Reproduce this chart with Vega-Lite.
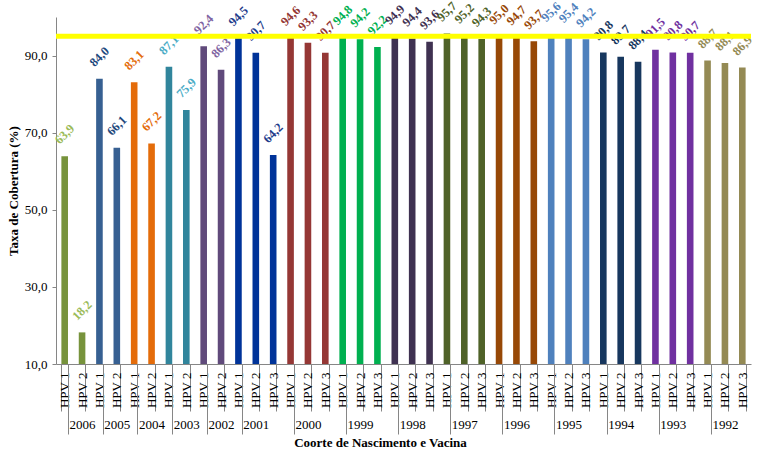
{
  "$schema": "https://vega.github.io/schema/vega-lite/v6.json",
  "width": 695,
  "height": 347,
  "autosize": {"type": "none"},
  "padding": {"left": 56, "top": 17, "right": 7, "bottom": 91},
  "background": "white",
  "config": {
    "view": {"stroke": null},
    "font": "Liberation Serif",
    "axis": {"labelFont": "Liberation Serif", "titleFont": "Liberation Serif", "labelColor": "black", "titleColor": "black", "domainColor": "#868686", "tickColor": "#868686", "grid": false},
    "axisY": {"labelOverlap": false}
  },
  "data": {"values": [
    {"grupo": "2006 HPV 1", "ano": "2006", "taxa": 63.9},
    {"grupo": "2006 HPV 2", "ano": "2006", "taxa": 18.2},
    {"grupo": "2005 HPV 1", "ano": "2005", "taxa": 84.0},
    {"grupo": "2005 HPV 2", "ano": "2005", "taxa": 66.1},
    {"grupo": "2004 HPV 1", "ano": "2004", "taxa": 83.1},
    {"grupo": "2004 HPV 2", "ano": "2004", "taxa": 67.2},
    {"grupo": "2003 HPV 1", "ano": "2003", "taxa": 87.1},
    {"grupo": "2003 HPV 2", "ano": "2003", "taxa": 75.9},
    {"grupo": "2002 HPV 1", "ano": "2002", "taxa": 92.4},
    {"grupo": "2002 HPV 2", "ano": "2002", "taxa": 86.3},
    {"grupo": "2001 HPV 1", "ano": "2001", "taxa": 94.5},
    {"grupo": "2001 HPV 2", "ano": "2001", "taxa": 90.7},
    {"grupo": "2001 HPV 3", "ano": "2001", "taxa": 64.2},
    {"grupo": "2000 HPV 1", "ano": "2000", "taxa": 94.6},
    {"grupo": "2000 HPV 2", "ano": "2000", "taxa": 93.3},
    {"grupo": "2000 HPV 3", "ano": "2000", "taxa": 90.7},
    {"grupo": "1999 HPV 1", "ano": "1999", "taxa": 94.8},
    {"grupo": "1999 HPV 2", "ano": "1999", "taxa": 94.2},
    {"grupo": "1999 HPV 3", "ano": "1999", "taxa": 92.2},
    {"grupo": "1998 HPV 1", "ano": "1998", "taxa": 94.9},
    {"grupo": "1998 HPV 2", "ano": "1998", "taxa": 94.4},
    {"grupo": "1998 HPV 3", "ano": "1998", "taxa": 93.6},
    {"grupo": "1997 HPV 1", "ano": "1997", "taxa": 95.7},
    {"grupo": "1997 HPV 2", "ano": "1997", "taxa": 95.2},
    {"grupo": "1997 HPV 3", "ano": "1997", "taxa": 94.3},
    {"grupo": "1996 HPV 1", "ano": "1996", "taxa": 95.0},
    {"grupo": "1996 HPV 2", "ano": "1996", "taxa": 94.7},
    {"grupo": "1996 HPV 3", "ano": "1996", "taxa": 93.7},
    {"grupo": "1995 HPV 1", "ano": "1995", "taxa": 95.6},
    {"grupo": "1995 HPV 2", "ano": "1995", "taxa": 95.4},
    {"grupo": "1995 HPV 3", "ano": "1995", "taxa": 94.2},
    {"grupo": "1994 HPV 1", "ano": "1994", "taxa": 90.8},
    {"grupo": "1994 HPV 2", "ano": "1994", "taxa": 89.7},
    {"grupo": "1994 HPV 3", "ano": "1994", "taxa": 88.4},
    {"grupo": "1993 HPV 1", "ano": "1993", "taxa": 91.5},
    {"grupo": "1993 HPV 2", "ano": "1993", "taxa": 90.8},
    {"grupo": "1993 HPV 3", "ano": "1993", "taxa": 90.7},
    {"grupo": "1992 HPV 1", "ano": "1992", "taxa": 88.7},
    {"grupo": "1992 HPV 2", "ano": "1992", "taxa": 88.1},
    {"grupo": "1992 HPV 3", "ano": "1992", "taxa": 86.9}
  ]},
  "layer": [
    {
      "mark": {"type": "bar"},
      "encoding": {
        "x": {
          "field": "grupo", "type": "nominal", "sort": null,
          "scale": {"paddingInner": 0.62, "paddingOuter": 0.31},
          "axis": {"orient": "bottom", "title": null, "labelExpr": "isString(datum.value) ? slice(datum.value, 5) : ''", "labelAngle": 270, "labelAlign": "right", "labelBaseline": "middle", "labelFontSize": 13, "labelPadding": -39, "ticks": true, "tickBand": "extent", "tickSize": 47, "domain": true, "labelOverlap": false}
        },
        "y": {
          "field": "taxa", "type": "quantitative",
          "scale": {"domain": [10, 100], "nice": false, "zero": false},
          "axis": {"title": "Taxa de Cobertura (%)", "values": [10, 20, 30, 40, 50, 60, 70, 80, 90, 100], "labelExpr": "replace(format(datum.value, '.1f'), '.', ',')", "tickSize": 4, "labelFontSize": 13, "labelOverlap": false, "titleFontSize": 13, "titleFontWeight": "bold", "titlePadding": 4, "labelPadding": 5}
        },
        "y2": {"datum": 10},
        "color": {
          "field": "ano", "type": "nominal", "legend": null,
          "scale": {
            "domain": ["2006", "2005", "2004", "2003", "2002", "2001", "2000", "1999", "1998", "1997", "1996", "1995", "1994", "1993", "1992"],
            "range": ["#77933C", "#376092", "#E46C0A", "#31859C", "#604A7B", "#003399", "#953735", "#00B050", "#3F3151", "#4F6228", "#974806", "#4F81BD", "#17375E", "#7030A0", "#948A54"]
          }
        }
      }
    },
    {
      "mark": {"type": "text", "angle": -45, "align": "center", "baseline": "middle", "dx": 15.5, "dy": -15.5, "fontWeight": "bold", "fontSize": 12.5, "font": "Liberation Serif", "text": {"expr": "replace(format(datum.taxa, '.1f'), '.', ',')"}},
      "encoding": {
        "x": {
          "field": "grupo", "type": "nominal", "sort": null,
          "axis": {
            "orient": "bottom", "title": "Coorte de Nascimento  e Vacina", "titleX": 324, "titleFontSize": 13, "titleFontWeight": "bold", "titlePadding": 2,
            "labelExpr": "isString(datum.value) && indexof(datum.value, 'HPV 2') >= 0 ? slice(datum.value, 0, 4) : ''",
            "labelAngle": 0, "labelAlign": "center", "labelBaseline": "top", "labelFontSize": 13, "labelPadding": -16, "labelOverlap": false,
            "domain": false, "ticks": true, "tickBand": "extent", "tickSize": 70,
            "tickOpacity": {"condition": {"test": "isString(datum.value) && indexof(datum.value, 'HPV 1') >= 0", "value": 1}, "value": 0}
          }
        },
        "y": {"field": "taxa", "type": "quantitative"},
        "color": {
          "field": "ano", "type": "nominal", "legend": null,
          "scale": {
            "domain": ["2006", "2005", "2004", "2003", "2002", "2001", "2000", "1999", "1998", "1997", "1996", "1995", "1994", "1993", "1992"],
            "range": ["#9BBB59", "#1F497D", "#E46C0A", "#4BACC6", "#8064A2", "#1F3D8C", "#943634", "#00B050", "#3F3151", "#4F6228", "#984807", "#4F81BD", "#17375E", "#7030A0", "#948A54"]
          }
        }
      }
    },
    {
      "data": {"values": [{"meta": 95}]},
      "mark": {"type": "rule", "color": "#FFFF00", "strokeWidth": 5},
      "encoding": {"y": {"field": "meta", "type": "quantitative"}}
    }
  ],
  "resolve": {"scale": {"color": "independent"}, "axis": {"x": "independent"}}
}
